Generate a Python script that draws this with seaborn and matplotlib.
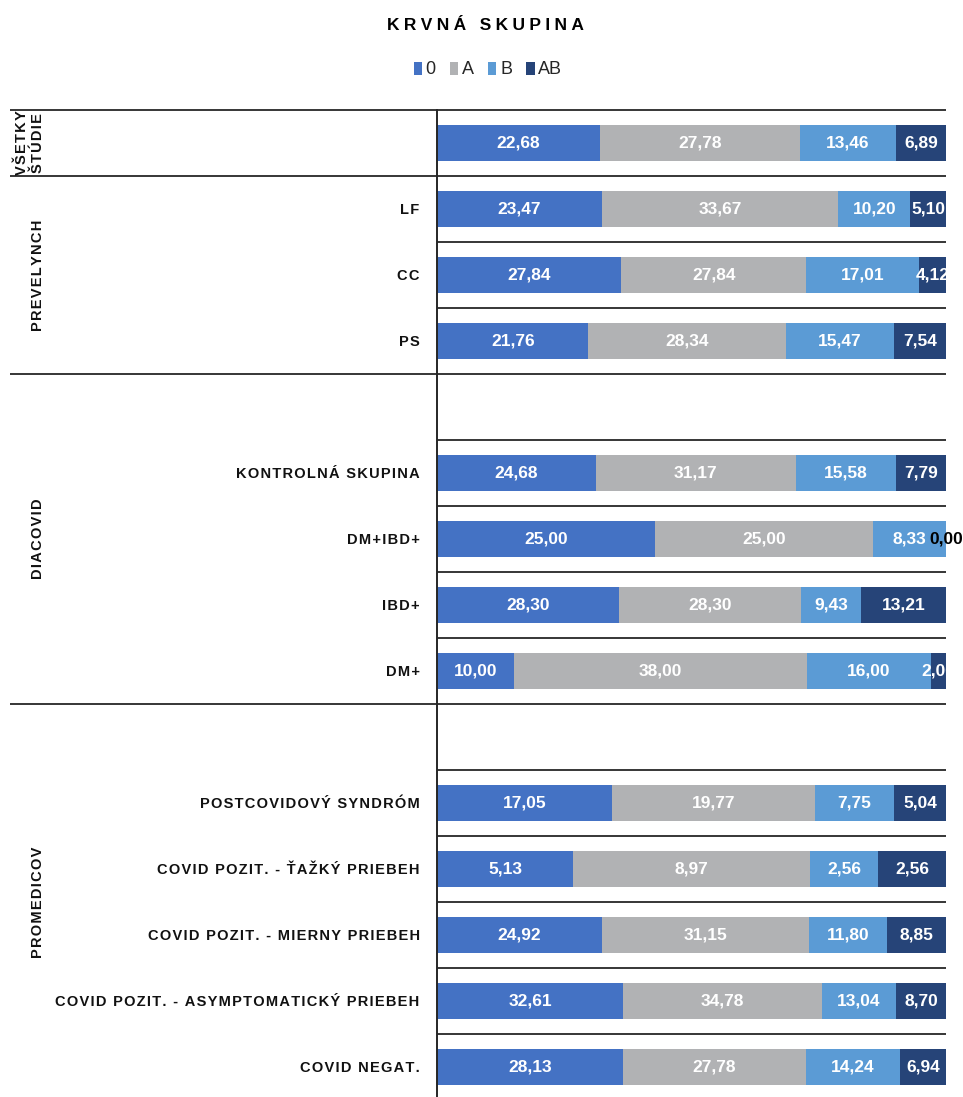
import numpy as np
import pandas as pd
import matplotlib
matplotlib.use("Agg")
import matplotlib.pyplot as plt
import matplotlib.transforms as mtransforms
from matplotlib.patches import Patch
from matplotlib import font_manager
import seaborn as sns

# ---------------- data ----------------
categories = ["", "LF", "CC", "PS", "",
              "KONTROLNÁ SKUPINA", "DM+IBD+", "IBD+", "DM+", "",
              "POSTCOVIDOVÝ SYNDRÓM", "COVID POZIT. - ŤAŽKÝ PRIEBEH",
              "COVID POZIT. - MIERNY PRIEBEH",
              "COVID POZIT. - ASYMPTOMATICKÝ PRIEBEH", "COVID NEGAT."]
blood_types = ["0", "A", "B", "AB"]
val_0 = [22.68, 23.47, 27.84, 21.76, None, 24.68, 25.00, 28.30, 10.00, None,
         17.05, 5.13, 24.92, 32.61, 28.13]
val_A = [27.78, 33.67, 27.84, 28.34, None, 31.17, 25.00, 28.30, 38.00, None,
         19.77, 8.97, 31.15, 34.78, 27.78]
val_B = [13.46, 10.20, 17.01, 15.47, None, 15.58, 8.33, 9.43, 16.00, None,
         7.75, 2.56, 11.80, 13.04, 14.24]
val_AB = [6.89, 5.10, 4.12, 7.54, None, 7.79, 0.00, 13.21, 2.00, None,
          5.04, 2.56, 8.85, 8.70, 6.94]
groups = ["VŠETKY\nŠTÚDIE", "PREVELYNCH", "DIACOVID", "PROMEDICOV"]
group_first = [0, 1, 4, 9]
group_last = [0, 3, 8, 14]

colors = ["#4472C4", "#B1B2B4", "#5B9BD5", "#264478"]

# ---------------- style ----------------
sns.set_style("white")
plt.rcParams["font.family"] = ["Liberation Sans", "DejaVu Sans"]

try:
    font_manager.findfont(font_manager.FontProperties(family="Liberation Sans Narrow"),
                          fallback_to_default=False)
    has_narrow = True
except Exception:
    has_narrow = False

if has_narrow:
    lab_family = ["Liberation Sans Narrow", "Liberation Sans", "DejaVu Sans"]
    lab_size, lab_sp = 10.5, "\u2005"
else:
    lab_family = ["Liberation Sans", "DejaVu Sans"]
    lab_size, lab_sp = 10.5, "\u200a"


def spaced(s, sp):
    return "\n".join(sp.join(line) for line in s.split("\n"))


keys = [f"r{i}" for i in range(len(categories))]
df = pd.DataFrame({"key": keys, "0": val_0, "A": val_A, "B": val_B, "AB": val_AB}).dropna()
tot = df[blood_types].sum(axis=1)
prev = np.zeros(len(df))
for t in blood_types:
    frac = df[t] / tot
    df["start_" + t] = prev
    df["cum_" + t] = prev + frac
    prev = prev + frac

W, H = 963, 1097
fig = plt.figure(figsize=(W / 100, H / 100), dpi=100)
ax = fig.add_axes([437 / W, -3 / H, 509 / W, 990 / H])

for t, c in reversed(list(zip(blood_types, colors))):
    sns.barplot(data=df, x="cum_" + t, y="key", order=keys, orient="h",
                color=c, saturation=1, width=0.56, errorbar=None,
                linewidth=0, ax=ax)

ax.set_xlim(0, 1)
ax.set_ylim(len(keys) - 0.5, -0.5)
ax.set_xlabel("")
ax.set_ylabel("")
ax.set_yticks(range(len(keys)))
ax.set_yticklabels([spaced(c, lab_sp) for c in categories], fontweight="bold",
                   fontsize=lab_size, color="#111111", family=lab_family)
ax.tick_params(axis="y", length=0, pad=12.5)
ax.tick_params(axis="x", bottom=False, labelbottom=False)
for s in ["top", "right", "bottom"]:
    ax.spines[s].set_visible(False)
ax.spines["left"].set_color("#262626")
ax.spines["left"].set_linewidth(1.4)

# separators
trans = mtransforms.blended_transform_factory(ax.transAxes, ax.transData)
x_full = (10 - 437) / 509
full_lines = [-0.5, 0.5, 3.5, 8.5, 14.5]
for y in np.arange(-0.5, len(keys), 1.0):
    x0 = x_full if y in full_lines else 0
    ax.plot([x0, 1], [y, y], transform=trans, clip_on=False,
            color="#262626", lw=1.3, solid_capstyle="butt")

# data labels
pos = {k: i for i, k in enumerate(keys)}
for _, row in df.iterrows():
    yi = pos[row["key"]]
    for t in blood_types:
        v = row[t]
        xc = (row["start_" + t] + row["cum_" + t]) / 2
        txt = f"{v:.2f}".replace(".", ",")
        ax.text(xc, yi, txt, ha="center", va="center", fontsize=12.5,
                fontweight="bold", color="black" if v == 0 else "white",
                clip_on=(v != 0))

# group labels
gtrans = mtransforms.blended_transform_factory(fig.transFigure, ax.transData)
for g, a, b in zip(groups, group_first, group_last):
    xg = 30 / W if "\n" in g else 38 / W
    ax.text(xg, (a + b) / 2, spaced(g, lab_sp), transform=gtrans, rotation=90,
            ha="center", va="center", fontsize=lab_size, fontweight="bold",
            color="#111111", linespacing=1.1, multialignment="center",
            family=lab_family)

# title
fig.text(485 / W, 1 - 25 / H, spaced("KRVNÁ SKUPINA", "\u2005"),
         ha="center", va="center", fontsize=12.5, fontweight="bold",
         color="black", family=lab_family if has_narrow else ["Liberation Sans", "DejaVu Sans"])

# legend
handles = [Patch(facecolor=c, edgecolor="none") for c in colors]
fig.legend(handles, blood_types, loc="center",
           bbox_to_anchor=(488 / W, 1 - 70 / H), ncol=4, frameon=False,
           handlelength=0.45, handleheight=0.7, handletextpad=0.2,
           columnspacing=0.8, prop={"family": lab_family, "size": 13})

fig.savefig("out.png", dpi=100)
